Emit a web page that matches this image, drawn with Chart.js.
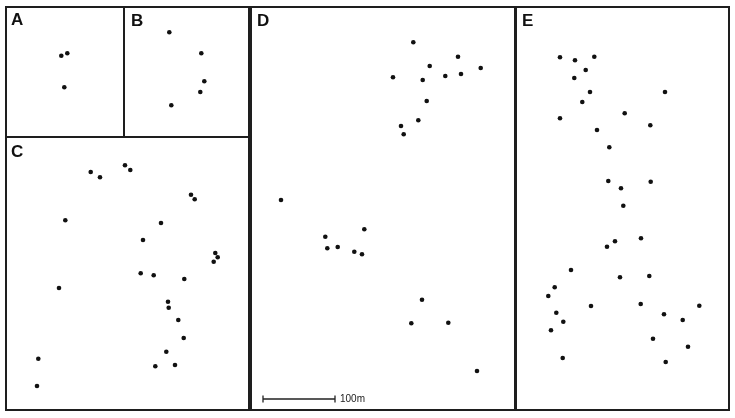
<!DOCTYPE html>
<html>
<head>
<meta charset="utf-8">
<script src="https://cdn.jsdelivr.net/npm/chart.js@4.4.1/dist/chart.umd.min.js"></script>
<style>
  body { margin: 0; background: #fff; }
  #figure { position: relative; width: 735px; height: 418px; font-family: "Liberation Sans", Arial, sans-serif; }
  .panel { position: absolute; }
  .panel canvas { position: absolute; left: 0; top: 0; }
  .frame { position: absolute; left: 0; top: 0; right: 0; bottom: 0; border: 2px solid #1e1e1e; box-sizing: border-box; pointer-events: none; }
  .letter { position: absolute; font-weight: bold; font-size: 17px; line-height: 17px; color: #111; }
</style>
</head>
<body>
<div id="figure"></div>
<script>
// map units: 72 units = 100 m (see scale bar in D), origin top-left of each panel
const pointsA = [[56.3, 49.7], [62.3, 47.3], [59.3, 81.3]];

const pointsB = [[46.3, 26.3], [78.3, 47.3], [81.3, 75.3], [77.3, 86], [48.3, 99.3]];

const pointsC = [
  [85.7, 36], [95, 41.3], [120, 29.3], [125.3, 34], [186, 58.7], [189.7, 63.3],
  [60.3, 84.3], [156, 87], [138, 104], [210.3, 117], [212.7, 121.3], [208.7, 125.7],
  [135.7, 137.3], [148.7, 139.3], [179.3, 143], [54, 152], [163, 165.7], [163.7, 171.7],
  [173.3, 184], [178.7, 202], [161.3, 215.7], [33.3, 222.7], [150.3, 230.3], [170, 229],
  [32, 250],
];

const pointsD = [
  [163.3, 36.3], [208, 50.7], [179.7, 60], [230.7, 62], [143, 71.3], [172.7, 74],
  [195.3, 70], [211, 68], [176.7, 95], [168.3, 114.3], [151, 120], [153.7, 128.3],
  [31, 194], [75.3, 230.7], [114.3, 223.3], [77.3, 242.3], [87.7, 241], [104.3, 245.7],
  [112, 248.3], [172, 293.7], [161.3, 317.3], [198.3, 316.7], [227, 365],
];

const pointsE = [
  [46, 51.3], [61, 54.3], [80.3, 50.7], [71.7, 64], [60.3, 72], [76, 86], [151, 86],
  [68.3, 96], [46, 112.3], [110.7, 107.3], [136.3, 119.3], [83, 124], [95.3, 141.3],
  [94.3, 175], [136.7, 175.7], [107, 182.3], [109.3, 199.7], [127, 232.3], [101, 235.3],
  [93, 240.7], [57, 264], [106, 271.3], [135.3, 270], [40.7, 281.3], [34.3, 290],
  [77, 300], [126.7, 298], [185.3, 299.7], [42.3, 306.7], [150, 308.3], [49.3, 315.7],
  [168.7, 314], [37, 324.3], [139, 332.7], [174, 340.7], [48.7, 352], [151.7, 356],
];

const scaleBarStart = [13, 393];
const scaleBarLength = 72; // = 100 m
const scaleBarLabel = "100m";

const panelLetters = ["A", "B", "C", "D", "E"];
const panelPoints = [pointsA, pointsB, pointsC, pointsD, pointsE];

// layout only
const boxes = [
  { left: 5, top: 6, width: 120, height: 132, lx: 6, ly: 5 },
  { left: 123, top: 6, width: 127, height: 132, lx: 8, ly: 6 },
  { left: 5, top: 136, width: 245, height: 275, lx: 6, ly: 7 },
  { left: 250, top: 6, width: 267, height: 405, lx: 7, ly: 6 },
  { left: 514, top: 6, width: 216, height: 405, lx: 8, ly: 6 },
];

const scaleBarPlugin = {
  id: "scaleBar",
  afterDatasetsDraw(chart) {
    const { ctx, scales } = chart;
    const x0 = scales.x.getPixelForValue(scaleBarStart[0]);
    const x1 = scales.x.getPixelForValue(scaleBarStart[0] + scaleBarLength);
    const y = scales.y.getPixelForValue(scaleBarStart[1]);
    ctx.save();
    ctx.strokeStyle = "#222";
    ctx.lineWidth = 1.3;
    ctx.beginPath();
    ctx.moveTo(x0, y);
    ctx.lineTo(x1, y);
    ctx.moveTo(x0, y - 3.5);
    ctx.lineTo(x0, y + 3.5);
    ctx.moveTo(x1, y - 3.5);
    ctx.lineTo(x1, y + 3.5);
    ctx.stroke();
    ctx.fillStyle = "#222";
    ctx.font = '10px "Liberation Sans", Arial, sans-serif';
    ctx.textBaseline = "middle";
    ctx.fillText(scaleBarLabel, x1 + 5, y + 0.5);
    ctx.restore();
  },
};

const figure = document.querySelector("#figure");

const makePanel = (letter, points, box) => {
  const div = document.createElement("div");
  div.className = "panel";
  div.style.left = `${box.left}px`;
  div.style.top = `${box.top}px`;
  div.style.width = `${box.width}px`;
  div.style.height = `${box.height}px`;

  const canvas = document.createElement("canvas");
  canvas.width = box.width;
  canvas.height = box.height;
  div.appendChild(canvas);

  const frame = document.createElement("div");
  frame.className = "frame";
  div.appendChild(frame);

  const label = document.createElement("div");
  label.className = "letter";
  label.style.left = `${box.lx}px`;
  label.style.top = `${box.ly}px`;
  label.innerText = letter;
  div.appendChild(label);

  figure.appendChild(div);

  new Chart(canvas, {
    type: "scatter",
    data: {
      datasets: [
        {
          data: points.map(([x, y]) => ({ x, y })),
          pointRadius: 2.3,
          pointBackgroundColor: "#111",
          pointBorderWidth: 0,
          clip: false,
        },
      ],
    },
    options: {
      responsive: false,
      animation: false,
      events: [],
      layout: { padding: 0, autoPadding: false },
      plugins: { legend: { display: false }, tooltip: { enabled: false } },
      scales: {
        x: { type: "linear", display: false, min: 0, max: box.width },
        y: { type: "linear", display: false, min: 0, max: box.height, reverse: true },
      },
    },
    plugins: letter === "D" ? [scaleBarPlugin] : [],
  });
};

panelLetters.forEach((letter, i) => makePanel(letter, panelPoints[i], boxes[i]));
</script>
</body>
</html>
